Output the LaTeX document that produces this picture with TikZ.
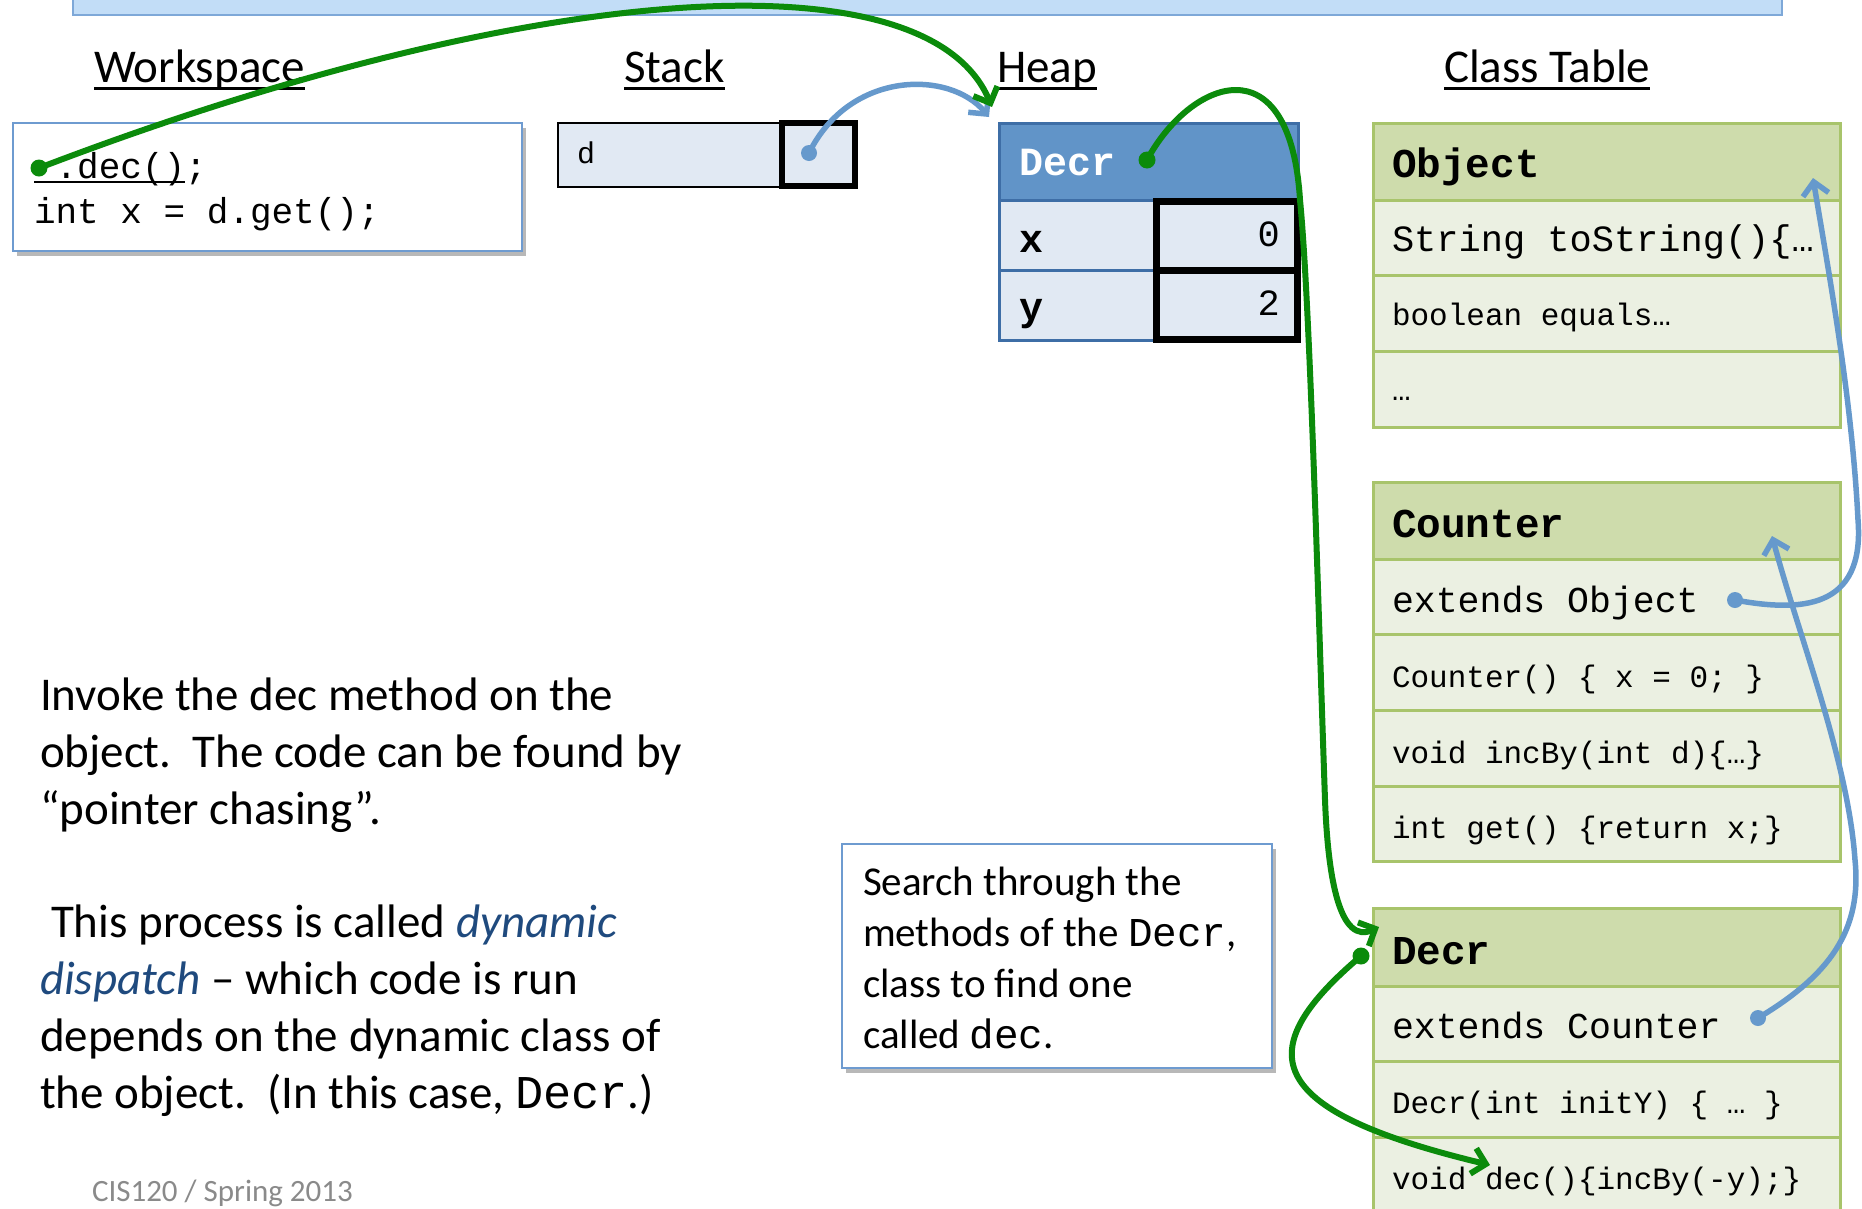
\documentclass[tikz,border=0pt]{standalone}
\usepackage{fontspec}
\setmainfont{Carlito}
\newfontfamily\cour{Liberation Mono}
\usetikzlibrary{arrows.meta,shadows}
\definecolor{bannerfill}{HTML}{C2DDF7}
\definecolor{bannerline}{HTML}{7EA8D8}
\definecolor{wsline}{HTML}{6E9BD0}
\definecolor{cellfill}{HTML}{E1E9F3}
\definecolor{heaphead}{HTML}{6194C8}
\definecolor{heapline}{HTML}{3E6EA6}
\definecolor{clshead}{HTML}{CEDCAC}
\definecolor{clsrow}{HTML}{EBF0E2}
\definecolor{clsline}{HTML}{A8C46B}
\definecolor{gline}{HTML}{0B8B0B}
\definecolor{bline}{HTML}{6699CC}
\definecolor{emphc}{HTML}{1F4A7E}
\definecolor{footc}{HTML}{8A8A8A}
\tikzset{
  box/.style={anchor=north west, inner sep=0pt, outer sep=0pt},
  txt/.style={anchor=base west, inner sep=0pt, outer sep=0pt},
  head/.style={txt, font=\fontsize{47}{57}\selectfont},
  uline/.style={line width=3pt},
  para/.style={txt, font=\fontsize{47}{57}\selectfont},
  srch/.style={txt, font=\fontsize{41}{50}\selectfont},
  shadowbox/.style={box, draw=wsline, line width=2pt, fill=white,
     drop shadow={shadow xshift=4pt, shadow yshift=-5pt, fill=black, opacity=0.28}},
  clsH/.style={box, draw=clsline, line width=3pt, fill=clshead, minimum width=467pt},
  clsR/.style={box, draw=clsline, line width=3pt, fill=clsrow, minimum width=467pt},
  clsname/.style={txt, font=\fontsize{41}{48}\selectfont\cour\bfseries},
  clsbig/.style={txt, font=\fontsize{36.5}{44}\selectfont\cour},
  clssmall/.style={txt, font=\fontsize{31}{37}\selectfont\cour},
  garrow/.style={draw=gline, line width=6pt, line cap=round, -{Straight Barb[length=13pt,width=26pt]}},
  barrow/.style={draw=bline, line width=5.5pt, line cap=round, -{Straight Barb[length=13pt,width=26pt]}},
  gdot/.style={circle, fill=gline, inner sep=0pt, minimum size=17pt},
  bdot/.style={circle, fill=bline, inner sep=0pt, minimum size=16pt},
}
\begin{document}
\begin{tikzpicture}[x=1pt,y=-1pt]
\useasboundingbox (0,0) rectangle (1862,1208);

% banner
\node[box, draw=bannerline, fill=bannerfill, line width=2pt, minimum width=1709pt, minimum height=26pt] (banner) at (73,-11) {};

% headings
\node[head] (hws) at (94,82) {Workspace};
\node[head] (hst) at (624,82) {Stack};
\node[head] (hhp) at (997,82) {Heap};
\node[head] (hct) at (1444,82) {Class Table};
\foreach \h in {hws,hst,hhp,hct}{
  \draw[uline] ([yshift=-6pt]\h.base west) -- ([yshift=-6pt]\h.base east);
}

% workspace
\node[shadowbox, minimum width=509pt, minimum height=128pt] (ws) at (13,123) {};
\node[txt, font=\fontsize{36}{43}\selectfont\cour] (c1) at (34,178) {\phantom{d}.dec();};
\node[txt, font=\fontsize{36}{43}\selectfont\cour] (c2) at (34,223) {int x = d.get();};
\draw[line width=2pt] ([yshift=-4pt]c1.base west) -- ([yshift=-4pt,xshift=151pt]c1.base west);

% stack
\node[box, draw=black, line width=2pt, fill=cellfill, minimum width=222pt, minimum height=64pt] (stk) at (558,123) {};
\node[box, draw=black, line width=6pt, fill=cellfill, minimum width=73pt, minimum height=63pt] (stkp) at (782,123) {};
\node[txt, font=\fontsize{30}{36}\selectfont\cour] (sd) at (577,163) {d};

% heap
\node[box, draw=heapline, line width=3pt, fill=heaphead, minimum width=299pt, minimum height=77pt] (hpH) at (999,123) {};
\node[box, draw=heapline, line width=3pt, fill=cellfill, minimum width=299pt, minimum height=70pt] (hpX) at (999,200) {};
\node[box, draw=heapline, line width=3pt, fill=cellfill, minimum width=299pt, minimum height=70pt] (hpY) at (999,270) {};
\node[box, draw=black, line width=7pt, fill=cellfill, minimum width=141pt, minimum height=69pt] (hvX) at (1156,201) {};
\node[box, draw=black, line width=7pt, fill=cellfill, minimum width=141pt, minimum height=69pt] (hvY) at (1156,270) {};
\node[txt, font=\fontsize{40}{48}\selectfont\cour\bfseries, text=white] (hpname) at (1019,175) {Decr};
\node[txt, font=\fontsize{40}{48}\selectfont\cour\bfseries] (hxl) at (1019,252) {x};
\node[txt, font=\fontsize{40}{48}\selectfont\cour\bfseries] (hyl) at (1019,320) {y};
\node[anchor=base east, inner sep=0pt, font=\fontsize{37}{44}\selectfont\cour] (hxv) at (1280,246) {0};
\node[anchor=base east, inner sep=0pt, font=\fontsize{37}{44}\selectfont\cour] (hyv) at (1280,315) {2};

% class Object
\node[clsH, minimum height=77pt] (oH) at (1373,123) {};
\node[clsR, minimum height=75pt] (oR1) at (1373,200) {};
\node[clsR, minimum height=76pt] (oR2) at (1373,275) {};
\node[clsR, minimum height=76pt] (oR3) at (1373,351) {};
\node[clsname] (oHt) at (1392,177) {Object};
\node[txt, font=\fontsize{37}{44}\selectfont\cour] (oR1t) at (1392,251) {String toString()\{…};
\node[clssmall] (oR2t) at (1392,325) {boolean equals…};
\node[clssmall] (oR3t) at (1392,400) {…};

% class Counter
\node[clsH, minimum height=77pt] (cH) at (1373,482) {};
\node[clsR, minimum height=75pt] (cR1) at (1373,559) {};
\node[clsR, minimum height=76pt] (cR2) at (1373,634) {};
\node[clsR, minimum height=76pt] (cR3) at (1373,710) {};
\node[clsR, minimum height=75pt] (cR4) at (1373,786) {};
\node[clsname] (cHt) at (1392,537) {Counter};
\node[clsbig] (cR1t) at (1392,612) {extends Object};
\node[clssmall] (cR2t) at (1392,687) {Counter() \{ x = 0; \}};
\node[clssmall] (cR3t) at (1392,763) {void incBy(int d)\{…\}};
\node[clssmall] (cR4t) at (1392,838) {int get() \{return x;\}};

% class Decr
\node[clsH, minimum height=78pt] (dH) at (1373,908) {};
\node[clsR, minimum height=75pt] (dR1) at (1373,986) {};
\node[clsR, minimum height=76pt] (dR2) at (1373,1061) {};
\node[clsR, minimum height=76pt] (dR3) at (1373,1137) {};
\node[clsname] (dHt) at (1392,964) {Decr};
\node[clsbig] (dR1t) at (1392,1038) {extends Counter};
\node[clssmall] (dR2t) at (1392,1113) {Decr(int initY) \{ … \}};
\node[clssmall] (dR3t) at (1392,1189) {void dec()\{incBy(-y);\}};

% explanation text
\node[para] (p1) at (40,710) {Invoke the dec method on the};
\node[para] (p2) at (40,767) {object.\ \ The code can be found by};
\node[para] (p3) at (40,824) {“pointer chasing”.};
\node[para] (p4) at (51,937) {This process is called \textcolor{emphc}{\itshape dynamic}};
\node[para] (p5) at (40,994) {\textcolor{emphc}{\itshape dispatch} – which code is run};
\node[para] (p6) at (40,1051) {depends on the dynamic class of};
\node[para] (p7) at (40,1108) {the object.\ \ (In this case, {\cour Decr}.)};
\node[txt, font=\fontsize{31}{37}\selectfont, text=footc] (foot) at (92,1201) {CIS120 / Spring 2013};

% search box
\node[shadowbox, minimum width=430pt, minimum height=224pt] (sb) at (842,844) {};
\node[srch] (s1) at (863,895) {Search through the};
\node[srch] (s2) at (863,946) {methods of the {\cour Decr},};
\node[srch] (s3) at (863,997) {class to find one};
\node[srch] (s4) at (863,1048) {called {\cour dec}.};

% connector end points
\coordinate (wsdot) at (39,168);
\coordinate (heaptipG) at (992,107);
\coordinate (stdot) at (809,153);
\coordinate (heaptipB) at (989,117);
\coordinate (hdot) at (1147,160);
\coordinate (dtip) at (1379,927);
\coordinate (ddot) at (1361,956);
\coordinate (dectip) at (1490,1165);
\coordinate (codot) at (1735,600);
\coordinate (otip) at (1813,178);
\coordinate (cudot) at (1758,1018);
\coordinate (ctip) at (1772,536);

% blue connectors
\draw[barrow] (stdot) .. controls (850,70) and (950,70) .. (heaptipB);
\draw[barrow] (codot) .. controls (1800,612) and (1865,610) .. (1858,520)
   .. controls (1852,400) and (1830,280) .. (otip);
\draw[barrow] (cudot) .. controls (1830,975) and (1862,930) .. (1855,860)
   .. controls (1848,760) and (1800,640) .. (ctip);
\node[bdot] (stdotn) at (stdot) {};
\node[bdot] (codotn) at (codot) {};
\node[bdot] (cudotn) at (cudot) {};

% green connectors
\draw[garrow] (wsdot) .. controls (525,-18) and (927,-49) .. (heaptipG);
\draw[garrow] (hdot) .. controls (1190,80) and (1290,40) .. (1300,200)
   .. controls (1310,303) and (1318,600) .. (1325,800)
   .. controls (1328,880) and (1340,945) .. (dtip);
\draw[garrow] (ddot) .. controls (1250,1050) and (1260,1110) .. (dectip);
\node[gdot] (wsdotn) at (wsdot) {};
\node[gdot] (hdotn) at (hdot) {};
\node[gdot] (ddotn) at (ddot) {};
\end{tikzpicture}
\end{document}
